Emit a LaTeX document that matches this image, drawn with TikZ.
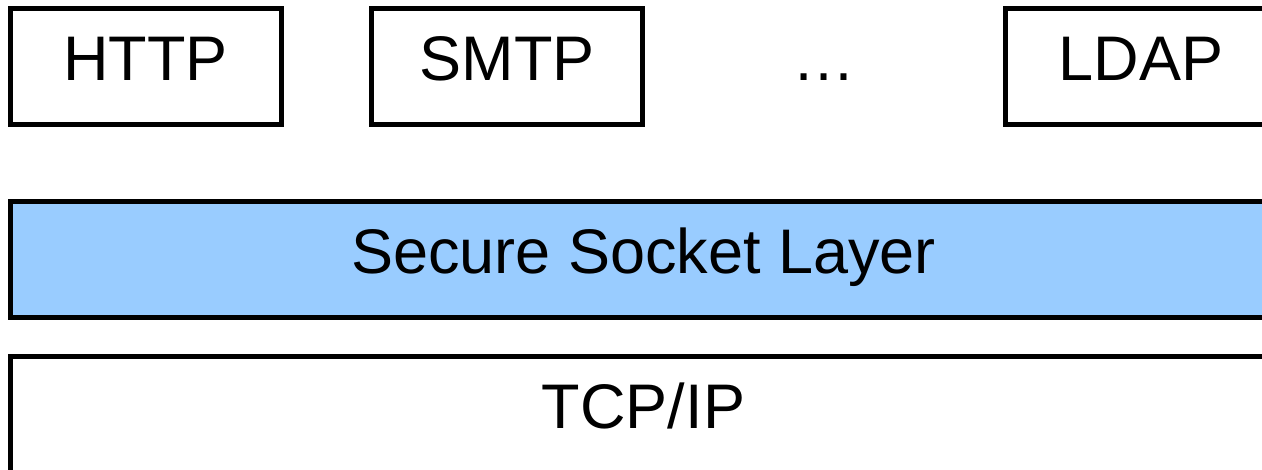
\documentclass[tikz,border=0pt]{standalone}
\usepackage{fontspec}
\setmainfont{Liberation Sans}
\definecolor{sslblue}{RGB}{153,204,255}
\begin{document}
\begin{tikzpicture}[x=1pt,y=-1pt,
  labelfont/.style={font=\fontsize{63}{76}\selectfont},
  layerbox/.style={draw=black,line width=5pt,rectangle,inner sep=0pt,
    minimum height=116pt,labelfont,
    text height=28pt,text depth=0pt},
  protobox/.style={layerbox,minimum width=270.5pt},
  widebox/.style={layerbox,minimum width=1267pt}]
\clip (0,0) rectangle (1262,470);
\node[protobox] (http) at (145.75,66.5) {HTTP};
\node[protobox] (smtp) at (507,66.5) {SMTP};
\node[labelfont,anchor=base,inner sep=0pt] (dots) at (823.5,81) {…};
\node[protobox] (ldap) at (1141,66.5) {LDAP};
\node[widebox,fill=sslblue] (ssl) at (643.5,259.5) {Secure Socket Layer};
\node[widebox] (tcp) at (643.5,414.5) {TCP/IP};
\end{tikzpicture}
\end{document}
